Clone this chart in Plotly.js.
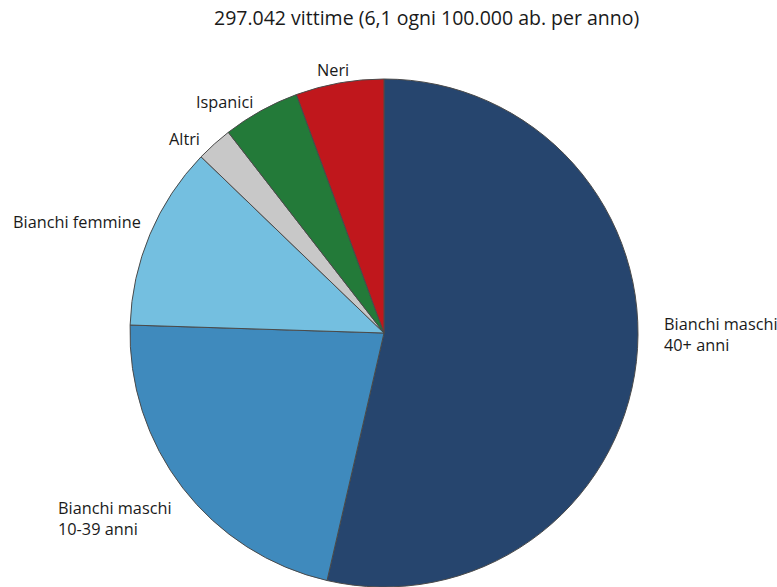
<!DOCTYPE html>
<html>
<head>
<meta charset="utf-8">
<script src="https://cdn.plot.ly/plotly-3.0.1.min.js"></script>
<style>html,body{margin:0;padding:0;background:#fff;}#chart{width:777px;height:587px;}</style>
</head>
<body>
<div id="chart"></div>
<script>
const categories = ["Bianchi maschi<br>40+ anni", "Bianchi maschi<br>10-39 anni", "Bianchi femmine", "Altri", "Ispanici", "Neri"];
const values = [53.6, 21.9, 11.7, 2.3, 4.9, 5.6];
const colors = ["#26456e", "#3f8abd", "#74bfe0", "#c8c8c8", "#237a39", "#c0171c"];
const titleText = "297.042 vittime (6,1 ogni 100.000 ab. per anno)";

const W = 777, H = 587;
const cx = 384, cy = 333, r = 254;
// label anchor positions (pixels) and alignment
const labelPos = [
  {x: 662, y: 334, a: "left"},
  {x: 56, y: 518, a: "left"},
  {x: 11, y: 222, a: "left"},
  {x: 167, y: 139, a: "left"},
  {x: 194, y: 102, a: "left"},
  {x: 315, y: 70, a: "left"}
];
const font = "Open Sans, sans-serif";

const annotations = categories.map((c, i) => ({
  text: c, xref: "paper", yref: "paper",
  x: labelPos[i].x / W, y: 1 - labelPos[i].y / H,
  xanchor: labelPos[i].a, yanchor: "middle", align: "left",
  showarrow: false, font: {family: font, size: 16.3, color: "#1a1a1a"}
}));
annotations.push({
  text: titleText, xref: "paper", yref: "paper",
  x: 426.5 / W, y: 1 - 17 / H, xanchor: "center", yanchor: "middle",
  showarrow: false, font: {family: font, size: 19.5, color: "#1a1a1a"}
});

Plotly.newPlot("chart", [{
  type: "pie",
  labels: categories,
  values: values,
  sort: false,
  direction: "clockwise",
  rotation: 0,
  textinfo: "none",
  hoverinfo: "label+percent",
  marker: {colors: colors, line: {color: "#4a4a4a", width: 1}},
  domain: {x: [(cx - r) / W, (cx + r) / W], y: [(H - cy - r) / H, (H - cy + r) / H]},
  showlegend: false
}], {
  width: W, height: H,
  margin: {l: 0, r: 0, t: 0, b: 0},
  paper_bgcolor: "#fff",
  annotations: annotations
}, {displayModeBar: false});
</script>
</body>
</html>
